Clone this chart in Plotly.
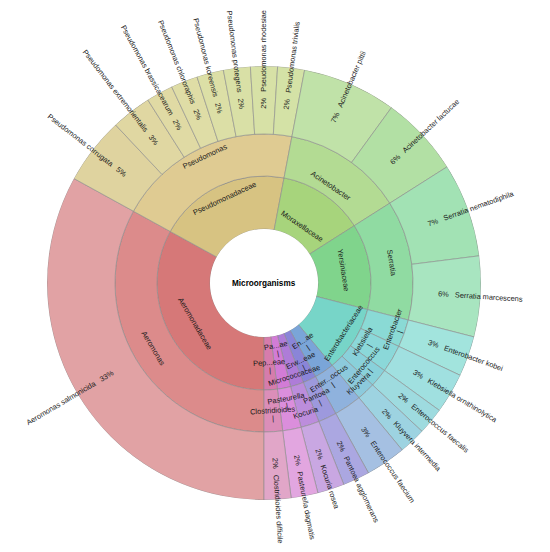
import math
import plotly.graph_objects as go

# taxonomy, innermost ring first
families = ["Aeromonadaceae", "Pseudomonadaceae", "Moraxellaceae", "Yersiniaceae",
            "Enterobacteriaceae", "Enterococcaceae", "Erwiniaceae", "Micrococcaceae",
            "Pasteurellaceae", "Peptostreptococcaceae"]
family_labels = ["Aeromonadaceae", "Pseudomonadaceae", "Moraxellaceae", "Yersiniaceae",
                 "Enterobacteriaceae", "En...ae", "Erw...eae", "Micrococcaceae",
                 "Pa...ae", "Pep...eae"]

genera = ["Aeromonas", "Pseudomonas", "Acinetobacter", "Serratia", "Enterobacter",
          "Klebsiella", "Enterococcus", "Kluyvera", "Enterococcus", "Pantoea",
          "Kocuria", "Pasteurella", "Clostridioides"]
genus_labels = ["Aeromonas", "Pseudomonas", "Acinetobacter", "Serratia", "Enterobacter",
                "Klebsiella", "Enterococcus", "Kluyvera", "Enter...occus", "Pantoea",
                "Kocuria", "Pasteurella", "Clostridioides"]
genus_family = [0, 1, 2, 3, 4, 4, 4, 4, 5, 6, 7, 8, 9]

species = ["Aeromonas salmonicida",
           "Pseudomonas corrugata", "Pseudomonas extremorientalis", "Pseudomonas brassicacearum",
           "Pseudomonas chlororaphis", "Pseudomonas koreensis", "Pseudomonas protegens",
           "Pseudomonas rhodesiae", "Pseudomonas trivialis",
           "Acinetobacter pittii", "Acinetobacter lactucae",
           "Serratia nematodiphila", "Serratia marcescens",
           "Enterobacter kobei", "Klebsiella ornithinolytica", "Enterococcus faecalis",
           "Kluyvera intermedia", "Enterococcus faecium", "Pantoea agglomerans",
           "Kocuria rosea", "Pasteurella dagmatis", "Clostridioides difficile"]
species_genus = [0, 1, 1, 1, 1, 1, 1, 1, 1, 2, 2, 3, 3, 4, 5, 6, 7, 8, 9, 10, 11, 12]
species_pct = [33, 5, 3, 2, 2, 2, 2, 2, 2, 7, 6, 7, 6, 3, 3, 2, 2, 3, 2, 2, 2, 2]

# colours
family_colors = ["#d67878", "#d7c382", "#a7d47c", "#80d48c", "#77d5c8", "#7aa5d8",
                 "#8a85d8", "#ae7cd8", "#d27cd6", "#d67cac"]
genus_colors = ["#dc8b8b", "#dfcb92", "#b3db93", "#90dba2", "#8adad5", "#8bd8d9",
                "#89d1da", "#8ccadc", "#8fb2dd", "#9d99dd", "#bc8ddc", "#db8edc", "#db8eb9"]
species_colors = ["#e1a2a4", "#dfd39f", "#e0d7a2", "#e0daa4", "#dfdda6", "#dcdfa6",
                  "#d9e0a6", "#d7e1a6", "#d4e2a6", "#c0e2a8", "#b2e0a4", "#a2e2b4",
                  "#a8e5c0", "#a2e4dd", "#a0e0e0", "#9edbdf", "#9dd3e1", "#a5c0e2",
                  "#aba7e1", "#c9a7e2", "#e2a6e0", "#e1a6c8"]

# label placement inside each ring (0 = inner edge, 1 = outer edge)
family_label_frac = [0.5, 0.75, 0.28, 0.5, 0.75, 0.3, 0.6, 0.81, 0.19, 0.49]
genus_label_frac = [0.51, 0.77, 0.27, 0.52, 0.7, 0.17, 0.53, 0.74, 0.19, 0.4, 0.7, 0.24, 0.49]
family_ticks = [5, 6, 8, 9]
genus_ticks = [4, 5, 6, 8, 9, 11, 12]

W, H = 550, 552
# the page body adds an 8px offset, so the centre is set 8px up/left
CX, CY = 256, 275          # centre in figure pixels, from top-left
HOLE, FAM, GEN, OUT = 54, 107, 149, 217
PCT_R = 175                # where the species text starts
FS = 7.5
FS_SP = 7.4
FONT = "Liberation Sans, Arial, sans-serif"

AW = {"a": 556, "b": 556, "c": 500, "d": 556, "e": 556, "f": 278, "g": 556, "h": 556,
      "i": 222, "j": 222, "k": 500, "l": 222, "m": 833, "n": 556, "o": 556, "p": 556,
      "q": 556, "r": 333, "s": 500, "t": 278, "u": 556, "v": 500, "w": 722, "x": 500,
      "y": 500, "z": 500, " ": 278, "\u00a0": 278, "%": 889, ".": 278,
      "A": 667, "C": 722, "E": 667, "K": 667, "P": 667, "S": 667}


def text_w(s, size):
    return sum(AW.get(c, 556) for c in s) * size / 1000


genus_vals = [0] * len(genera)
for g, v in zip(species_genus, species_pct):
    genus_vals[g] += v
family_vals = [0] * len(families)
for f, v in zip(genus_family, genus_vals):
    family_vals[f] += v


def mids(vals):
    out, cum = [], 0
    for v in vals:
        out.append((cum + v / 2) * 3.6)
        cum += v
    return out


def norm(a):
    return ((a + 90) % 180) - 90


def paper(r, a):
    t = math.radians(a)
    return (CX + r * math.cos(t)) / W, (H - CY + r * math.sin(t)) / H


fig = go.Figure()
rings = [
    (family_vals, family_colors, 0, FAM - HOLE, families),
    (genus_vals, genus_colors, FAM - HOLE, GEN - FAM, genera),
    (species_pct, species_colors, GEN - HOLE, OUT - GEN, species),
]
for vals, cols, base, depth, names in rings:
    fig.add_trace(go.Barpolar(
        theta=mids(vals), r=[depth] * len(vals), base=[base] * len(vals),
        width=[v * 3.6 for v in vals], text=names, hoverinfo="text",
        marker=dict(color=cols, line=dict(color="#8c8c8c", width=0.6)),
        showlegend=False,
    ))

ann = []


def tangential(labels, vals, fracs, r_in, r_out, ticks):
    for i, (lab, th) in enumerate(zip(labels, mids(vals))):
        a = -90 - th
        r = r_in + fracs[i] * (r_out - r_in)
        x, y = paper(r, a)
        ang = norm(90 - a)
        ann.append(dict(x=x, y=y, text=lab, textangle=ang, font=dict(size=FS)))
        if i in ticks:
            x, y = paper(r + 8, a)
            ann.append(dict(x=x, y=y, text="|", textangle=ang, font=dict(size=FS)))


tangential(family_labels, family_vals, family_label_frac, HOLE, FAM, family_ticks)
tangential(genus_labels, genus_vals, genus_label_frac, FAM, GEN, genus_ticks)

gap = "\u00a0\u00a0\u00a0"
for name, v, th in zip(species, species_pct, mids(species_pct)):
    a = -90 - th
    pct = f"{v}%"
    if math.cos(math.radians(a)) >= -1e-9:
        txt = pct + gap + name
    else:
        txt = name + gap + pct
    r = PCT_R + text_w(txt, FS_SP) / 2
    x, y = paper(r, a)
    ann.append(dict(x=x, y=y, text=txt, textangle=norm(-a), font=dict(size=FS_SP)))

for d in ann:
    d["font"].update(color="#1a1a1a", family=FONT)
    d.update(xref="paper", yref="paper", showarrow=False, xanchor="center",
             yanchor="middle")

cx, cy = paper(0, 0)
ann.append(dict(x=cx, y=cy, xref="paper", yref="paper", showarrow=False,
                text="<b>Microorganisms</b>", font=dict(size=8.2, color="#000", family=FONT)))

fig.update_layout(
    width=W, height=H,
    margin=dict(l=0, r=0, t=0, b=0),
    paper_bgcolor="white",
    annotations=ann,
    polar=dict(
        domain=dict(x=[(CX - OUT) / W, (CX + OUT) / W],
                    y=[(H - CY - OUT) / H, (H - CY + OUT) / H]),
        hole=HOLE / OUT,
        bgcolor="white",
        bargap=0,
        radialaxis=dict(range=[0, OUT - HOLE], visible=False),
        angularaxis=dict(rotation=-90, direction="clockwise", visible=False),
    ),
)

fig.write_html("out.html")
